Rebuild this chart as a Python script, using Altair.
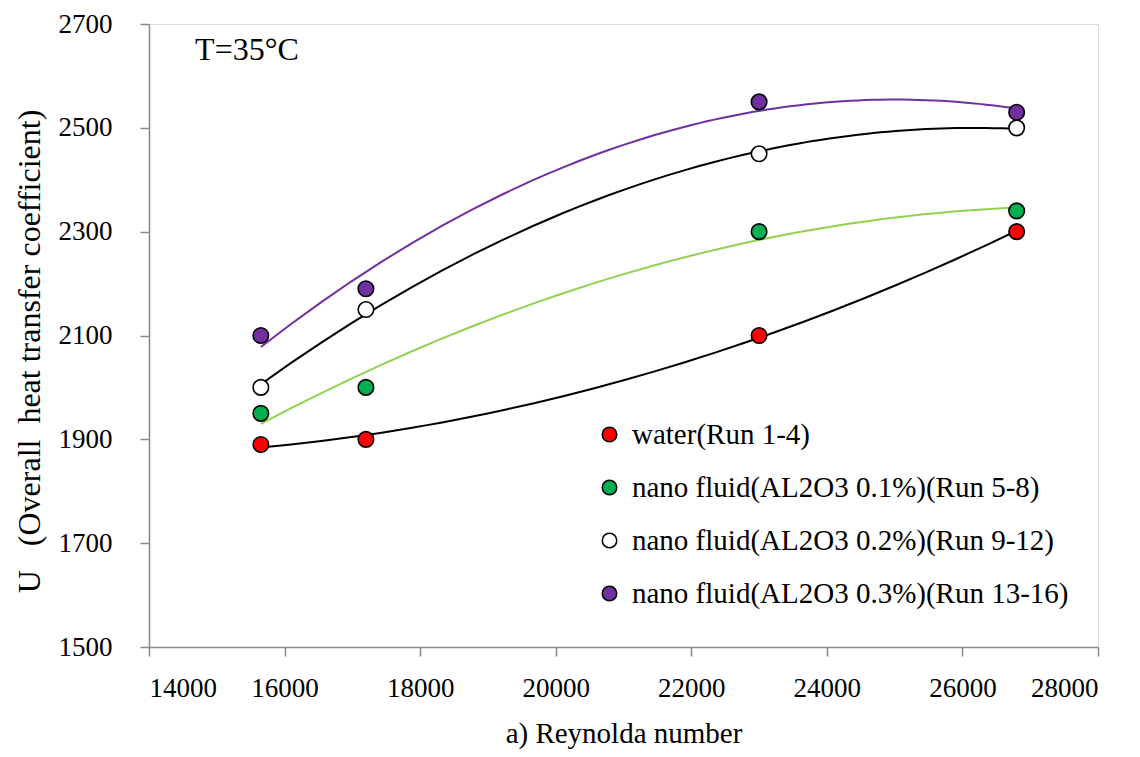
import altair as alt
import pandas as pd

series_names = [
    "water(Run 1-4)",
    "nano fluid(AL2O3 0.1%)(Run 5-8)",
    "nano fluid(AL2O3 0.2%)(Run 9-12)",
    "nano fluid(AL2O3 0.3%)(Run 13-16)",
]
reynolds = [15650, 17200, 23000, 26800]
u_water = [1890, 1900, 2100, 2300]
u_01 = [1950, 2000, 2300, 2340]
u_02 = [2000, 2150, 2450, 2500]
u_03 = [2100, 2190, 2550, 2530]

fill_colors = ["#ff0000", "#00b050", "#ffffff", "#7030a0"]
line_colors = ["#000000", "#92d050", "#000000", "#7030a0"]

rows = []
for name, vals in zip(series_names, [u_water, u_01, u_02, u_03]):
    for x, y in zip(reynolds, vals):
        rows.append({"series": name, "Re": x, "U": y})
df = pd.DataFrame(rows)

FONT = "Liberation Serif"

xscale = alt.Scale(domain=[14000, 28000], nice=False, zero=False)
yscale = alt.Scale(domain=[1500, 2700], nice=False, zero=False)

xaxis = alt.Axis(
    values=list(range(14000, 28001, 2000)), format="d", grid=False,
    title="a) Reynolda number", titleFontSize=29, titleFont=FONT, titleFontWeight="normal",
    titleColor="black", titlePadding=18,
    labelFontSize=27, labelFont=FONT, labelColor="black", labelPadding=19,
    tickSize=9, tickColor="#888888", domainColor="#888888", domainWidth=1.5, tickWidth=1.5,
)
yaxis = alt.Axis(
    values=list(range(1500, 2701, 200)), format="d", grid=False,
    title="U\u00a0\u00a0\u00a0(Overall\u00a0\u00a0heat transfer coefficient)",
    titleFontSize=32, titleFont=FONT, titleFontWeight="normal", titleColor="black",
    titleX=-120, titleY=327, titleAngle=-90, titleAlign="center", titleBaseline="middle",
    labelFontSize=27, labelFont=FONT, labelColor="black", labelPadding=28,
    tickSize=9, tickColor="#888888", domainColor="#888888", domainWidth=1.5, tickWidth=1.5,
)

base = alt.Chart(df)

lines = base.transform_regression(
    "Re", "U", method="poly", order=2, groupby=["series"], extent=[15650, 26800]
).mark_line(strokeWidth=2).encode(
    x=alt.X("Re:Q", scale=xscale, axis=xaxis),
    y=alt.Y("U:Q", scale=yscale, axis=yaxis),
    stroke=alt.Stroke("series:N", scale=alt.Scale(domain=series_names, range=line_colors), legend=None),
    detail="series:N",
)

points = base.mark_point(filled=True, size=240, stroke="black", strokeWidth=1.6, opacity=1).encode(
    x=alt.X("Re:Q", scale=xscale),
    y=alt.Y("U:Q", scale=yscale),
    fill=alt.Fill(
        "series:N",
        scale=alt.Scale(domain=series_names, range=fill_colors),
        legend=alt.Legend(
            title=None, orient="none", legendX=446, legendY=396,
            labelFont=FONT, labelFontSize=29, labelColor="black", labelLimit=700,
            symbolType="circle", symbolSize=210, symbolStrokeColor="black",
            symbolStrokeWidth=1.5, rowPadding=23, labelOffset=8,
        ),
    ),
)

ann = alt.Chart(pd.DataFrame({"Re": [14680], "U": [2650], "t": ["T=35°C"]})).mark_text(
    font=FONT, fontSize=32, align="left", baseline="middle", color="black"
).encode(
    x=alt.X("Re:Q", scale=xscale),
    y=alt.Y("U:Q", scale=yscale),
    text="t:N",
)

chart = alt.layer(lines, points, ann).resolve_scale(stroke="independent").properties(
    width=949, height=623,
    autosize=alt.AutoSizeParams(type="none"),
    padding={"left": 141, "top": 16, "right": 26, "bottom": 110},
).configure_view(stroke=None).configure(background="white")

chart.save("out.html", embed_options={"renderer": "svg", "actions": False})
